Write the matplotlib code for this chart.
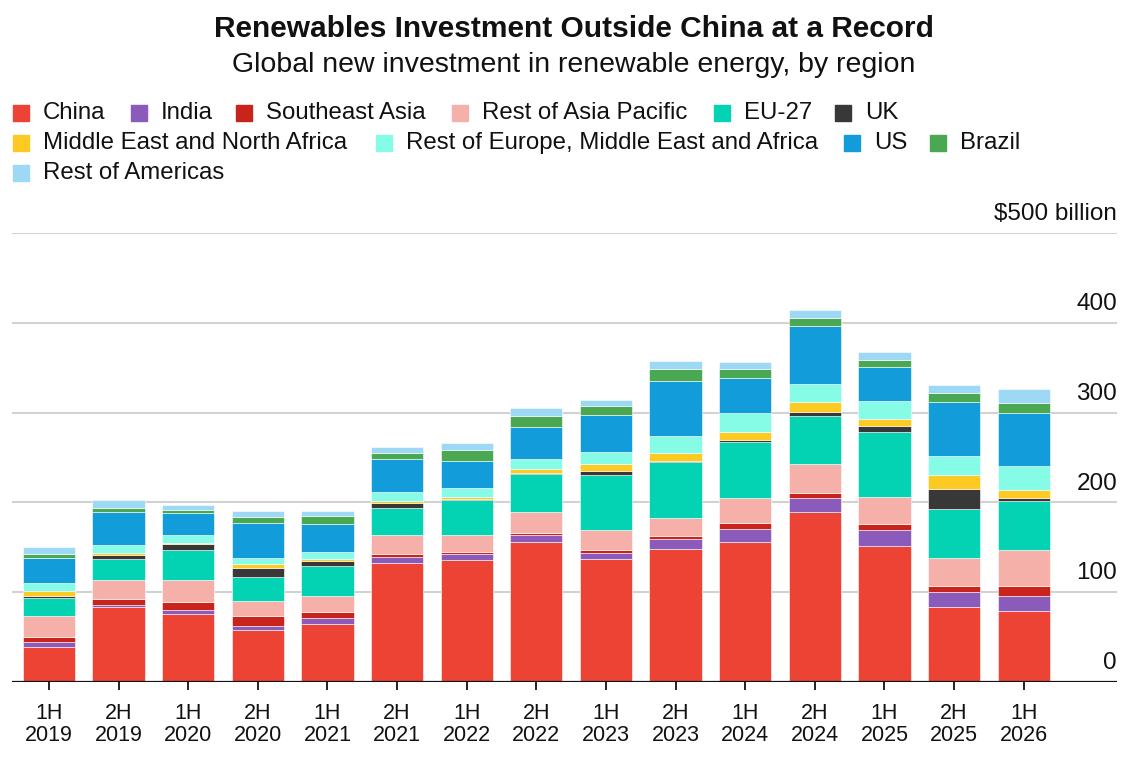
import numpy as np
import matplotlib.pyplot as plt
from matplotlib.lines import Line2D

plt.rcParams['font.family'] = ['Liberation Sans', 'DejaVu Sans']

periods = ['1H\n2019', '2H\n2019', '1H\n2020', '2H\n2020', '1H\n2021', '2H\n2021', '1H\n2022',
           '2H\n2022', '1H\n2023', '2H\n2023', '1H\n2024', '2H\n2024', '1H\n2025', '2H\n2025',
           '1H\n2026']

# $ billion (bottom to top)
china = [39, 83.6, 75.4, 58.3, 65, 133, 136.3, 156, 136.7, 148.6, 156.4, 189.4, 151.5, 83.6, 79.1]
india = [5.5, 2.6, 4.5, 3.7, 6.7, 6.7, 6.7, 8.2, 7.4, 10.7, 14.4, 15.2, 17.5, 16.3, 16.4]
se_asia = [5.5, 6.7, 9.6, 12, 6.3, 3.3, 1.8, 2.2, 3.3, 3, 6.4, 6.4, 7.4, 6.7, 11.8]
rest_apac = [23, 21, 23.8, 16, 17.5, 20.4, 19.4, 23.4, 21.6, 20.8, 28.2, 32.3, 29.7, 31.6, 40.1]
eu27 = [21, 22.7, 34, 26.7, 33.4, 30.8, 38.2, 41.6, 61.3, 61.7, 62.4, 52.7, 72.1, 54.6, 53.9]
uk = [1.5, 4.5, 6, 9.7, 5.5, 5.2, 1.5, 1.5, 4.4, 1.8, 1.8, 4.8, 7, 21.9, 4.1]
mena = [6, 2, 1.5, 4.8, 2.6, 2.3, 2.2, 4.4, 7.8, 8.6, 9, 11.2, 7.5, 16.3, 8.5]
rest_emea = [9.3, 9.3, 8.4, 7.4, 7.5, 10, 10.4, 10.8, 13.8, 18.2, 21.1, 20, 20, 20.4, 26.4]
us = [27.5, 37, 25, 39, 31.5, 36.8, 29.4, 36.4, 40.5, 62, 38.3, 64.7, 38.6, 60.6, 59.4]
brazil = [4, 4.5, 3.7, 6, 8.6, 7, 12.6, 11.5, 10.3, 13.7, 10.7, 8.9, 7.1, 9.3, 11.5]
rest_americas = [8, 9.3, 4.8, 7, 6, 6.7, 7.1, 8.6, 6.7, 8.2, 8.2, 8.1, 9.3, 9.6, 15.6]

regions = ['China', 'India', 'Southeast Asia', 'Rest of Asia Pacific', 'EU-27', 'UK',
           'Middle East and North Africa', 'Rest of Europe, Middle East and Africa', 'US',
           'Brazil', 'Rest of Americas']
series = [china, india, se_asia, rest_apac, eu27, uk, mena, rest_emea, us, brazil, rest_americas]
colors = ['#ec4334', '#8b5bbb', '#c9241b', '#f5b1a9', '#03d2b3', '#383838', '#fdc923',
          '#86fbe5', '#139cda', '#4aa852', '#9dd8f5']

yticks = [0, 100, 200, 300, 400, 500]
ytick_labels = ['0', '100', '200', '300', '400', '$500 billion']

W, H = 1147, 766
fig = plt.figure(figsize=(W / 100, H / 100), dpi=100)
ax = fig.add_axes([12 / W, 1 - 682 / H, (1117 - 12) / W, (682 - 233) / H])

x = np.arange(len(periods))
bottom = np.zeros(len(periods))
for name, vals, c in zip(regions, series, colors):
    ax.bar(x, vals, width=0.75, bottom=bottom, color=c, edgecolor='white', linewidth=0.4, zorder=3)
    bottom += np.array(vals)

ax.set_xlim(-0.53, 15.34)
ax.set_ylim(0, 500)

for v in yticks[1:]:
    ax.axhline(v, color='#d2d2d2', linewidth=1.5, zorder=1)
ax.axhline(0, color='#111111', linewidth=1.6, zorder=4)
for v, lab in zip(yticks, ytick_labels):
    ax.annotate(lab, xy=(1, v), xycoords=('axes fraction', 'data'), xytext=(0, 13.5),
                textcoords='offset points', ha='right', va='center', fontsize=17.5, color='#111111')

for s in ax.spines.values():
    s.set_visible(False)
ax.set_yticks([])
ax.set_xticks(x)
ax.set_xticklabels(periods, fontsize=15.5, linespacing=1.05, color='#111111')
ax.tick_params(axis='x', length=6, width=1.3, color='#111111', pad=9)

fig.text(0.5, 1 - 29 / H, 'Renewables Investment Outside China at a Record', ha='center', va='center',
         fontsize=21.5, fontweight='bold', color='#111111')
fig.text(0.5, 1 - 65 / H, 'Global new investment in renewable energy, by region', ha='center',
         va='center', fontsize=20.5, color='#111111')

# legend laid out in three rows like the original
legend_rows = [(113, [0, 1, 2, 3, 4, 5], [21, 139, 244, 460, 722, 843]),
               (143, [6, 7, 8, 9], [21, 384, 852, 938]),
               (173, [10], [21])]
for ypix, idxs, xs in legend_rows:
    for i, xp in zip(idxs, xs):
        fig.add_artist(Line2D([xp / W], [1 - ypix / H], marker='s', markersize=11,
                              color=colors[i], linestyle='none', transform=fig.transFigure))
        fig.text((xp + 22) / W, 1 - ypix / H, regions[i], ha='left', va='center',
                 fontsize=17.3, color='#111111')

fig.savefig('out.png', dpi=100, facecolor='white')
